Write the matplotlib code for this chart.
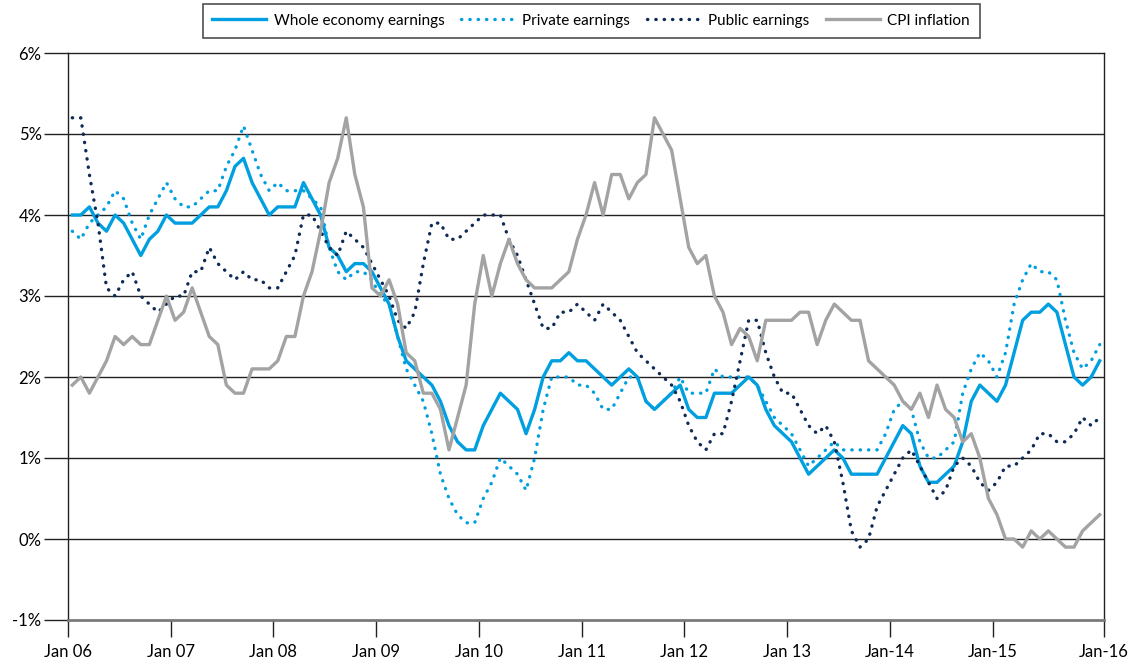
import numpy as np
import matplotlib.pyplot as plt

plt.rcParams['font.family'] = ['Lato', 'DejaVu Sans']

# monthly, Jan 2006 .. Jan 2016 (121 points), % change
whole = [4.0, 4.0, 4.1, 3.9, 3.8, 4.0, 3.9, 3.7, 3.5, 3.7, 3.8, 4.0,
         3.9, 3.9, 3.9, 4.0, 4.1, 4.1, 4.3, 4.6, 4.7, 4.4, 4.2, 4.0,
         4.1, 4.1, 4.1, 4.4, 4.2, 4.0, 3.6, 3.5, 3.3, 3.4, 3.4, 3.3,
         3.1, 2.9, 2.5, 2.2, 2.1, 2.0, 1.9, 1.7, 1.4, 1.2, 1.1, 1.1,
         1.4, 1.6, 1.8, 1.7, 1.6, 1.3, 1.6, 2.0, 2.2, 2.2, 2.3, 2.2,
         2.2, 2.1, 2.0, 1.9, 2.0, 2.1, 2.0, 1.7, 1.6, 1.7, 1.8, 1.9,
         1.6, 1.5, 1.5, 1.8, 1.8, 1.8, 1.9, 2.0, 1.9, 1.6, 1.4, 1.3,
         1.2, 1.0, 0.8, 0.9, 1.0, 1.1, 1.0, 0.8, 0.8, 0.8, 0.8, 1.0,
         1.2, 1.4, 1.3, 0.9, 0.7, 0.7, 0.8, 0.9, 1.2, 1.7, 1.9, 1.8,
         1.7, 1.9, 2.3, 2.7, 2.8, 2.8, 2.9, 2.8, 2.4, 2.0, 1.9, 2.0,
         2.2]

private = [3.8, 3.7, 3.9, 4.0, 4.1, 4.3, 4.2, 3.9, 3.7, 4.0, 4.2, 4.4,
           4.2, 4.1, 4.1, 4.2, 4.3, 4.3, 4.6, 4.8, 5.1, 4.8, 4.5, 4.3,
           4.4, 4.3, 4.3, 4.3, 4.2, 4.1, 3.6, 3.3, 3.2, 3.3, 3.3, 3.2,
           3.0, 2.9, 2.5, 2.1, 1.9, 1.7, 1.3, 0.8, 0.5, 0.3, 0.2, 0.2,
           0.5, 0.7, 1.0, 0.9, 0.8, 0.6, 1.0, 1.6, 2.0, 2.0, 2.0, 1.9,
           1.9, 1.8, 1.6, 1.6, 1.8, 2.0, 2.0, 1.7, 1.6, 1.7, 1.8, 2.0,
           1.8, 1.8, 1.8, 2.1, 2.0, 2.0, 2.0, 2.0, 1.9, 1.7, 1.5, 1.4,
           1.3, 1.1, 0.9, 1.0, 1.1, 1.2, 1.1, 1.1, 1.1, 1.1, 1.1, 1.3,
           1.6, 1.7, 1.6, 1.2, 1.0, 1.0, 1.1, 1.2, 1.8, 2.1, 2.3, 2.2,
           2.0, 2.3, 2.9, 3.2, 3.4, 3.3, 3.3, 3.2, 2.7, 2.3, 2.1, 2.2,
           2.4]

public = [5.2, 5.2, 4.5, 3.9, 3.1, 3.0, 3.2, 3.3, 3.0, 2.9, 2.8, 2.9,
          3.0, 3.0, 3.3, 3.3, 3.6, 3.4, 3.3, 3.2, 3.3, 3.2, 3.2, 3.1,
          3.1, 3.3, 3.5, 4.0, 4.0, 3.8, 3.6, 3.5, 3.8, 3.7, 3.6, 3.4,
          3.2, 3.0, 2.7, 2.6, 2.8, 3.4, 3.9, 3.9, 3.7, 3.7, 3.8, 3.9,
          4.0, 4.0, 4.0, 3.7, 3.5, 3.2, 2.9, 2.6, 2.6, 2.8, 2.8, 2.9,
          2.8, 2.7, 2.9, 2.8, 2.7, 2.5, 2.3, 2.2, 2.1, 2.0, 1.9, 1.7,
          1.4, 1.2, 1.1, 1.3, 1.3, 1.7, 2.2, 2.7, 2.7, 2.3, 2.0, 1.8,
          1.8, 1.6, 1.4, 1.3, 1.4, 1.2, 0.7, 0.1, -0.1, 0.0, 0.4, 0.6,
          0.8, 1.0, 1.1, 0.9, 0.7, 0.5, 0.6, 0.9, 1.0, 0.9, 0.7, 0.6,
          0.7, 0.9, 0.9, 1.0, 1.1, 1.3, 1.3, 1.2, 1.2, 1.3, 1.5, 1.4,
          1.5]

cpi = [1.9, 2.0, 1.8, 2.0, 2.2, 2.5, 2.4, 2.5, 2.4, 2.4, 2.7, 3.0,
       2.7, 2.8, 3.1, 2.8, 2.5, 2.4, 1.9, 1.8, 1.8, 2.1, 2.1, 2.1,
       2.2, 2.5, 2.5, 3.0, 3.3, 3.8, 4.4, 4.7, 5.2, 4.5, 4.1, 3.1,
       3.0, 3.2, 2.9, 2.3, 2.2, 1.8, 1.8, 1.6, 1.1, 1.5, 1.9, 2.9,
       3.5, 3.0, 3.4, 3.7, 3.4, 3.2, 3.1, 3.1, 3.1, 3.2, 3.3, 3.7,
       4.0, 4.4, 4.0, 4.5, 4.5, 4.2, 4.4, 4.5, 5.2, 5.0, 4.8, 4.2,
       3.6, 3.4, 3.5, 3.0, 2.8, 2.4, 2.6, 2.5, 2.2, 2.7, 2.7, 2.7,
       2.7, 2.8, 2.8, 2.4, 2.7, 2.9, 2.8, 2.7, 2.7, 2.2, 2.1, 2.0,
       1.9, 1.7, 1.6, 1.8, 1.5, 1.9, 1.6, 1.5, 1.2, 1.3, 1.0, 0.5,
       0.3, 0.0, 0.0, -0.1, 0.1, 0.0, 0.1, 0.0, -0.1, -0.1, 0.1, 0.2,
       0.3]

xlabels = ['Jan 06', 'Jan 07', 'Jan 08', 'Jan 09', 'Jan 10', 'Jan 11',
           'Jan 12', 'Jan 13', 'Jan-14', 'Jan-15', 'Jan-16']

light = '#009fe0'
navy = '#0d2b56'
grey = '#a3a3a3'

x = np.arange(len(whole))

fig = plt.figure(figsize=(11.28, 6.6), dpi=100)
ax = fig.add_axes([68/1128, 40/660, 1036/1128, 567/660])

dots = (0, (0.1, 2.4))
ax.plot(x, whole, '-', color=light, lw=2.4, label='Whole economy earnings', zorder=3)
ax.plot(x, private, color=light, lw=2.4, linestyle=dots, dash_capstyle='round',
        label='Private earnings', zorder=4)
ax.plot(x, public, color=navy, lw=2.4, linestyle=dots, dash_capstyle='round',
        label='Public earnings', zorder=5)
ax.plot(x, cpi, '-', color=grey, lw=2.4, label='CPI inflation', zorder=6)

ax.set_xlim(-0.5, len(whole) - 0.5)
ax.set_ylim(-1, 6)
ax.set_yticks(range(-1, 7))
ax.set_yticklabels(['{}%'.format(v) for v in range(-1, 7)])
# a tick every 12 months at the category edges, plus the right edge
xt = [-0.5 + 12 * k for k in range(10)] + [len(whole) - 0.5]
ax.set_xticks(xt)
ax.set_xticklabels(xlabels)

for v in range(0, 6):
    ax.axhline(v, color='#222222', lw=1.0, zorder=1)

for s in ['left', 'right', 'top']:
    ax.spines[s].set_color('#222222')
    ax.spines[s].set_linewidth(1.0)
ax.spines['bottom'].set_color('#7a7a7a')
ax.spines['bottom'].set_linewidth(2.0)

ax.tick_params(axis='y', length=17, width=1, color='#222222', labelsize=12, pad=2)
ax.tick_params(axis='x', length=12, width=1, color='#222222', labelsize=12, pad=5)

leg = ax.legend(loc='lower center', bbox_to_anchor=(0.505, 1.027), ncol=4,
                frameon=True, fancybox=False, edgecolor='#222222', fontsize=11,
                handlelength=3.5, handletextpad=0.5, columnspacing=1.1,
                borderpad=0.65, borderaxespad=0)
leg.get_frame().set_linewidth(1.2)

plt.savefig('out.png', dpi=100)
